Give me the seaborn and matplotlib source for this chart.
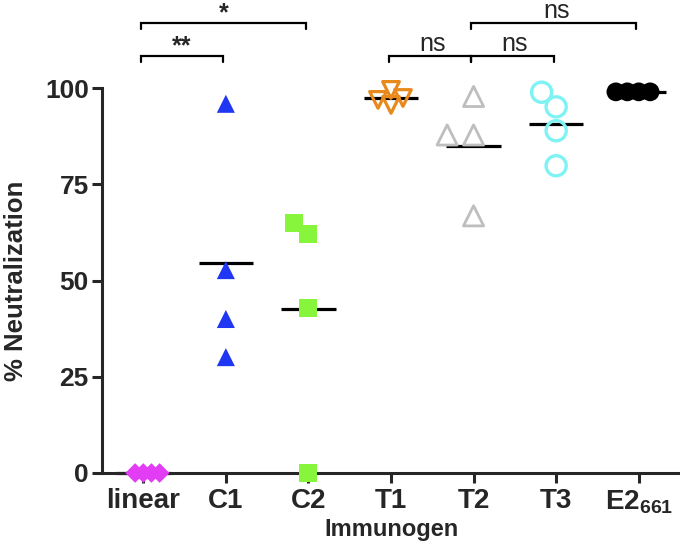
import warnings
import numpy as np
import pandas as pd
import matplotlib
matplotlib.use("Agg")
import matplotlib.pyplot as plt
import seaborn as sns

warnings.filterwarnings("ignore")

# data
groups = ["linear", "C1", "C2", "T1", "T2", "T3", "E2"]
tick_labels = ["linear", "C1", "C2", "T1", "T2", "T3", "E2$_{661}$"]

linear_vals = [0, 0, 0, 0]
c1_vals = [95.9, 52.7, 40.0, 30.1]
c2_vals = [62.0, 65.0, 42.9, 0.0]
t1_vals = [96.9, 95.6, 97.4, 99.5]
t2_vals = [97.8, 87.8, 87.8, 66.8]
t3_vals = [98.9, 95.1, 88.9, 79.8]
e2_vals = [99.0, 99.0, 99.0, 99.0]

# significance brackets: (group a, group b, level, label)
brackets = [
    ("linear", "C1", 0, "**"),
    ("linear", "C2", 1, "*"),
    ("T1", "T2", 0, "ns"),
    ("T2", "T3", 0, "ns"),
    ("T2", "E2", 1, "ns"),
]

# styles
colors = ["#E23CF5", "#1F36F2", "#86F53C", "#E8891C", "#BEBEBE", "#7FF3F3", "#000000"]
markers = ["D", "^", "s", "v", "^", "o", "o"]
filled = [True, True, True, False, False, False, True]
msize = [10, 13, 13, 12, 14.5, 14.5, 13.5]
edge_lw = [0, 0, 0, 2.3, 2.0, 2.4, 0]
swarm_scale = [0.56, 1.0, 1.0, 0.8, 1.25, 1.0, 0.58]

df = pd.concat([
    pd.DataFrame({"group": g, "value": v})
    for g, v in zip(groups, [linear_vals, c1_vals, c2_vals, t1_vals,
                             t2_vals, t3_vals, e2_vals])
], ignore_index=True)

sns.set_style("ticks")
plt.rcParams["font.family"] = ["Liberation Sans", "DejaVu Sans"]
plt.rcParams["mathtext.fontset"] = "custom"
plt.rcParams["mathtext.rm"] = "Liberation Sans:bold"
plt.rcParams["mathtext.it"] = "Liberation Sans:bold"
plt.rcParams["mathtext.bf"] = "Liberation Sans:bold"

fig = plt.figure(figsize=(6.8, 5.48), dpi=100)
ax = fig.add_axes([102 / 680, 1 - 473 / 548, 578 / 680, 385 / 548])

# swarm each group (collision size differs from the drawn size,
# so markers overlap like the prism dot plot)
colls = []
for i, g in enumerate(groups):
    sub = df[df["group"] == g]
    n_before = len(ax.collections)
    sns.swarmplot(data=sub, x="group", y="value", order=groups, ax=ax,
                  marker=markers[i], color=colors[i],
                  size=msize[i] * swarm_scale[i], linewidth=0,
                  clip_on=False, zorder=3)
    for c in ax.collections[n_before:]:
        if len(c.get_offsets()) > 0:
            colls.append(c)
        else:
            c.remove()

ax.set_xlim(-0.5, 6.5)
ax.set_ylim(0, 100)
fig.canvas.draw()

# freeze swarm positions, then apply the real marker look
for i, c in enumerate(colls):
    if "draw" in c.__dict__:
        del c.draw
    c.set_sizes([msize[i] ** 2])
    if filled[i]:
        c.set_facecolor(colors[i])
        c.set_edgecolor("none")
        c.set_linewidth(0)
    else:
        c.set_facecolor("none")
        c.set_edgecolor(colors[i])
        c.set_linewidth(edge_lw[i])
    c.set_zorder(3)

# mean lines
means = df.groupby("group")["value"].mean().reindex(groups)
xpos = np.arange(len(groups))
ax.hlines(means.values, xpos - 0.33, xpos + 0.33, color="black",
          lw=2.3, zorder=2, clip_on=False)

# axes style
for side in ["top", "right"]:
    ax.spines[side].set_visible(False)
ax.spines["left"].set_linewidth(2.2)
ax.spines["bottom"].set_linewidth(2.2)
ax.spines["bottom"].set_capstyle("butt")
ax.set_yticks([0, 25, 50, 75, 100])
ax.set_xticks(xpos)
ax.set_xticklabels(tick_labels, fontsize=20, fontweight="bold")
ax.tick_params(axis="y", labelsize=19, width=2.2, length=7.5, pad=2)
ax.tick_params(axis="x", width=2.2, length=7.5, pad=3.5)
for lab in ax.get_yticklabels():
    lab.set_fontweight("bold")

ax.set_ylabel("% Neutralization", fontsize=18.5, fontweight="bold")
ax.yaxis.set_label_coords(-0.128, 0.5)
ax.set_xlabel("Immunogen", fontsize=17, fontweight="bold", labelpad=0)
ax.xaxis.set_label_coords(0.5, -0.118)

# significance brackets above the plot
level_y = [108.3, 117.0]
drop = 1.6
for a, b, lev, lab in brackets:
    x1 = groups.index(a) - 0.03
    x2 = groups.index(b) - 0.03
    y = level_y[lev]
    ax.plot([x1, x1, x2, x2], [y - drop, y, y, y - drop], color="black",
            lw=1.6, clip_on=False, solid_joinstyle="miter")
    xm = (groups.index(a) + groups.index(b)) / 2
    if lab == "ns":
        ax.text(xm, y + 1.3, lab, ha="center", va="baseline", fontsize=18)
    else:
        ax.text(xm - 0.03, y + 0.6, lab, ha="center", va="baseline",
                fontsize=18, fontweight="bold")

fig.savefig("out.png", dpi=100)
